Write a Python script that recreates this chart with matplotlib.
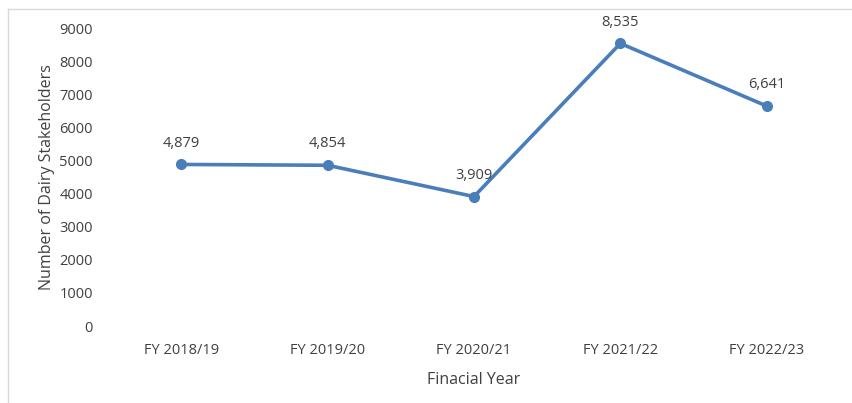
import matplotlib
matplotlib.use("Agg")
import matplotlib.pyplot as plt
from matplotlib.lines import Line2D

years = ["FY 2018/19", "FY 2019/20", "FY 2020/21", "FY 2021/22", "FY 2022/23"]
stakeholders = [4879, 4854, 3909, 8535, 6641]
yticks = [0, 1000, 2000, 3000, 4000, 5000, 6000, 7000, 8000, 9000]

plt.rcParams['font.family'] = ['Open Sans', 'DejaVu Sans']
txt = '#404040'
fig = plt.figure(figsize=(8.52, 4.03), dpi=100)
ax = fig.add_axes([108/852, 1-326/403, (840-108)/852, (326-28)/403])

x = list(range(len(years)))
ax.plot(x, stakeholders, color='#4A7EBB', lw=2.6, marker='o', ms=7, solid_capstyle='round')
for xi, v in zip(x, stakeholders):
    ax.annotate(f"{v:,}", (xi, v), xytext=(0, 10), textcoords='offset points',
                ha='center', va='bottom', fontsize=10.5, color=txt)

ax.set_xlim(-0.5, len(years) - 0.5)
ax.set_ylim(0, 9000)
ax.set_yticks(yticks)
ax.set_yticklabels([str(t) for t in yticks], fontsize=10.5, color=txt)
ax.set_xticks(x)
ax.set_xticklabels(years, fontsize=10.5, color=txt)
ax.tick_params(length=0)
ax.tick_params(axis='x', pad=12)
ax.tick_params(axis='y', pad=11)
for s in ax.spines.values():
    s.set_visible(False)
ax.set_xlabel("Finacial Year", fontsize=11.5, color=txt, labelpad=10)
ax.set_ylabel("Number of Dairy Stakeholders", fontsize=11.5, color=txt, labelpad=3)

# outer chart border (left and top edges visible)
fig.add_artist(Line2D([8/852, 8/852], [0, 1-9/403], transform=fig.transFigure, color='#D9D9D9', lw=1))
fig.add_artist(Line2D([8/852, 1], [1-9/403, 1-9/403], transform=fig.transFigure, color='#D9D9D9', lw=1))

fig.savefig("out.png", dpi=100)
